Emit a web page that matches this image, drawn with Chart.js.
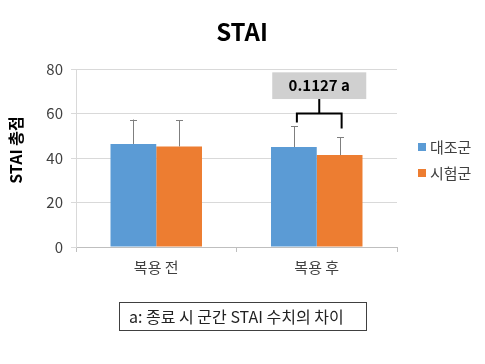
<!DOCTYPE html>
<html>
<head>
<meta charset="utf-8">
<script src="https://cdn.jsdelivr.net/npm/chart.js@4"></script>
<style>
  html, body { margin: 0; padding: 0; background: #fff; }
  #wrap { width: 485px; height: 364px; position: relative; }
</style>
</head>
<body>
<div id="wrap"><canvas id="chart" width="485" height="364"></canvas></div>
<script>
const FONT = "'Noto Sans CJK KR', 'Noto Sans', sans-serif";

const categories = ["복용 전", "복용 후"];
const controlMeans = [46.3, 44.9];
const controlSD = [11.0, 9.3];
const testMeans = [45.2, 41.3];
const testSD = [11.8, 8.1];
const yTicks = [0, 20, 40, 60, 80];

// bracket over "복용 후" (values on the y scale)
const bracketLabel = "0.1127 a";
const bracketLevel = 60;
const bracketTips = [56, 53.3];
const bracketStem = 66.5;
const boxRange = [66.5, 78.5];

const seriesNames = ["대조군", "시험군"];
const seriesColors = ["#5b9bd5", "#ed7d31"];
const footnote = "a: 종료 시 군간 STAI 수치의 차이";

const chartElement = document.getElementById("chart");

// error bars, bracket and all the free text
const extras = {
  id: "extras",
  afterDatasetsDraw(chart) {
    const ctx = chart.ctx;
    const y = chart.scales.y;
    const sds = [controlSD, testSD];
    ctx.save();
    ctx.strokeStyle = "#7f7f7f";
    ctx.lineWidth = 1;
    chart.data.datasets.forEach((ds, di) => {
      chart.getDatasetMeta(di).data.forEach((bar, i) => {
        const top = y.getPixelForValue(ds.data[i] + sds[di][i]);
        const x = Math.round(bar.x) + 0.5;
        ctx.beginPath();
        ctx.moveTo(x, bar.y);
        ctx.lineTo(x, top);
        ctx.moveTo(x - 3.5, Math.round(top) + 0.5);
        ctx.lineTo(x + 3.5, Math.round(top) + 0.5);
        ctx.stroke();
      });
    });

    // bracket
    const b1 = chart.getDatasetMeta(0).data[1];
    const b2 = chart.getDatasetMeta(1).data[1];
    const lx = b1.x + 3, rx = b2.x + 2;
    const mid = (lx + rx) / 2;
    ctx.strokeStyle = "#000";
    ctx.lineWidth = 2;
    ctx.beginPath();
    ctx.moveTo(lx, y.getPixelForValue(bracketTips[0]));
    ctx.lineTo(lx, y.getPixelForValue(bracketLevel));
    ctx.lineTo(rx, y.getPixelForValue(bracketLevel));
    ctx.lineTo(rx, y.getPixelForValue(bracketTips[1]));
    ctx.moveTo(mid, y.getPixelForValue(bracketLevel));
    ctx.lineTo(mid, y.getPixelForValue(bracketStem));
    ctx.stroke();

    const bt = y.getPixelForValue(boxRange[1]);
    const bb = y.getPixelForValue(boxRange[0]);
    ctx.fillStyle = "#d0d0d0";
    ctx.fillRect(mid - 47, bt, 94, bb - bt);
    ctx.fillStyle = "#000";
    ctx.font = "bold 15px " + FONT;
    ctx.textAlign = "center";
    ctx.textBaseline = "middle";
    ctx.fillText(bracketLabel, mid, (bt + bb) / 2);
    ctx.restore();
  },
  afterDraw(chart) {
    const ctx = chart.ctx;
    ctx.save();
    ctx.fillStyle = "#000";
    ctx.textAlign = "center";
    ctx.textBaseline = "middle";
    ctx.font = "bold 24px " + FONT;
    ctx.fillText("STAI", 242, 32);

    ctx.save();
    ctx.translate(16, 150);
    ctx.rotate(-Math.PI / 2);
    ctx.font = "bold 16px " + FONT;
    ctx.fillText("STAI 총점", 0, 0);
    ctx.restore();

    // legend
    ctx.textAlign = "left";
    ctx.font = "15px " + FONT;
    seriesNames.forEach((name, i) => {
      const cy = 147 + i * 26;
      ctx.fillStyle = seriesColors[i];
      ctx.fillRect(418, cy - 4, 8, 8);
      ctx.fillStyle = "#404040";
      ctx.fillText(name, 430, cy);
    });

    // footnote box
    ctx.strokeStyle = "#404040";
    ctx.lineWidth = 1;
    ctx.strokeRect(119.5, 302.5, 247, 28);
    ctx.fillStyle = "#222";
    ctx.font = "16px " + FONT;
    ctx.fillText(footnote, 129, 317);
    ctx.restore();
  }
};

new Chart(chartElement, {
  type: "bar",
  data: {
    labels: categories,
    datasets: [
      { label: seriesNames[0], data: controlMeans, backgroundColor: seriesColors[0] },
      { label: seriesNames[1], data: testMeans, backgroundColor: seriesColors[1] }
    ]
  },
  options: {
    responsive: false,
    animation: false,
    layout: { padding: { left: 0, top: 69, right: 88, bottom: 0 } },
    plugins: { legend: { display: false }, title: { display: false }, tooltip: { enabled: false } },
    datasets: { bar: { categoryPercentage: 0.57, barPercentage: 1.0 } },
    scales: {
      x: {
        grid: { drawOnChartArea: false, color: "#bfbfbf", tickLength: 5, offset: true },
        border: { color: "#bfbfbf" },
        ticks: { color: "#404040", font: { family: FONT, size: 15 }, padding: 6 },
        afterFit(scale) { scale.height = 364 - 247; }
      },
      y: {
        min: 0,
        max: 80,
        afterBuildTicks(scale) { scale.ticks = yTicks.map(v => ({ value: v })); },
        grid: { color: "#d9d9d9", tickLength: 5 },
        border: { color: "#d9d9d9" },
        ticks: { color: "#404040", font: { family: FONT, size: 15 }, padding: 8 },
        afterFit(scale) { scale.width = 76; }
      }
    }
  },
  plugins: [extras]
});
</script>
</body>
</html>
